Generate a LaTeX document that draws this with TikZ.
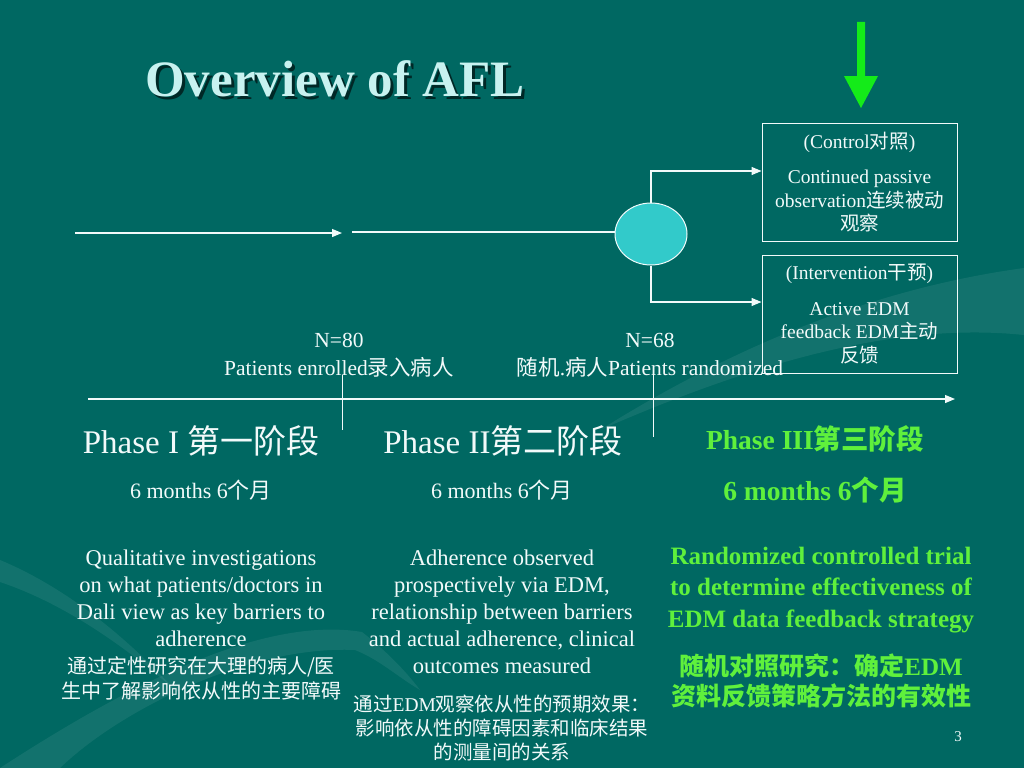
\documentclass[tikz,border=0pt]{standalone}
\usepackage{fontspec}
\setmainfont{Liberation Serif}
\newfontfamily\zhfont{Noto Sans CJK SC}
\usetikzlibrary{arrows.meta,shapes.geometric}
\definecolor{bg}{RGB}{0,104,98}
\definecolor{txt}{RGB}{242,250,250}
\definecolor{ttl}{RGB}{200,242,240}
\definecolor{shd}{RGB}{0,40,38}
\definecolor{grn}{RGB}{95,240,60}
\definecolor{garrow}{RGB}{20,235,25}
\definecolor{ellfill}{RGB}{50,202,202}
\newcommand\zh[1]{{\zhfont #1}}
\newcommand\fs[2]{\fontsize{#1}{#2}\selectfont}
\newcommand\shadowed[1]{\makebox[0pt][l]{\hspace{3pt}\raisebox{-3pt}{\textcolor{shd}{#1}}}#1}
\begin{document}
\begin{tikzpicture}[x=1pt,y=-1pt,
  wline/.style={draw=txt, line width=1.2pt},
  arr/.style={wline, -{Triangle[length=10pt,width=8pt]}},
  lbl/.style={text=txt, inner sep=0pt, align=center},
  glbl/.style={text=grn, inner sep=0pt, align=center},
  box/.style={draw=txt, line width=1pt, minimum width=195pt, minimum height=118pt, inner sep=0pt, text=txt, align=center, font={\fs{19.5}{23.5}}},
  swoosh/.style={fill=white, opacity=0.07},
]
\fill[bg] (0,0) rectangle (1024,768);
\useasboundingbox (0,0) rectangle (1024,768);
% background swooshes
\fill[swoosh] (0,560) .. controls (60,585) and (120,630) .. (175,690) .. controls (120,642) and (60,602) .. (0,582) -- cycle;
\fill[swoosh] (0,768) .. controls (120,690) and (260,615) .. (362,632) .. controls (385,650) and (405,670) .. (420,690) .. controls (395,675) and (380,660) .. (355,650) .. controls (250,645) and (120,710) .. (60,768) -- cycle;
\fill[swoosh] (1024,268) .. controls (900,285) and (760,330) .. (600,430) .. controls (760,360) and (900,322) .. (1024,335) -- cycle;
% title
\node[inner sep=0pt, font={\bfseries\fs{51}{56}}, text=ttl] (title) at (335,80) {\shadowed{Overview of AFL}};
% green arrow
\fill[garrow] (857,22) -- (865,22) -- (865,76) -- (878,76) -- (861,108) -- (844,76) -- (857,76) -- cycle;
% boxes
\node[box] (ctrl) at (859.5,182) {(Control\zh{对照})\\[12pt] Continued passive\\ observation\zh{连续被动}\\ \zh{观察}};
\node[box] (intv) at (859.5,314) {(Intervention\zh{干预})\\[12pt] Active EDM\\ feedback EDM\zh{主动}\\ \zh{反馈}};
% randomization ellipse
\node[ellipse, draw=txt, fill=ellfill, line width=1pt, minimum width=72pt, minimum height=62pt] (rand) at (651,234) {};
% arrows
\coordinate (a0) at (75,233);
\coordinate (a1) at (342,233);
\coordinate (b0) at (352,232);
\draw[arr] (a0) -- (a1);
\draw[wline] (b0) -- (b0 -| rand.west);
\draw[arr] (rand.north) |- ([yshift=11pt]ctrl.west);
\draw[arr] (rand.south) |- ([yshift=12pt]intv.west);
% timeline
\coordinate (t0) at (88,399);
\coordinate (t1) at (955,399);
\draw[arr] (t0) -- (t1);
\coordinate (k1a) at (342,375);
\coordinate (k1b) at (342,430);
\coordinate (k2a) at (653,375);
\coordinate (k2b) at (653,437);
\draw[wline, line width=1pt] (k1a) -- (k1b);
\draw[wline, line width=1pt] (k2a) -- (k2b);
% counts
\node[lbl, font={\fs{21.5}{28}}] (n80) at (339,355) {N=80\\ Patients enrolled\zh{录入病人}};
\node[lbl, font={\fs{21.5}{28}}] (n68) at (650,355) {N=68\\ \zh{随机}.\zh{病人}Patients randomized};
% phases
\node[lbl, font={\fs{33}{36}}] (p1) at (201,441) {Phase I \zh{第一阶段}};
\node[lbl, font={\fs{33}{36}}] (p2) at (503,441) {Phase II\zh{第二阶段}};
\node[glbl, font={\bfseries\fs{27.5}{30}}] (p3) at (815,439) {Phase III\zh{第三阶段}};
\node[lbl, font={\fs{22}{26}}] (m1) at (201,490) {6 months 6\zh{个月}};
\node[lbl, font={\fs{22}{26}}] (m2) at (502,490) {6 months 6\zh{个月}};
\node[glbl, font={\bfseries\fs{27.5}{30}}] (m3) at (815,490) {6 months 6\zh{个月}};
% descriptions
\node[lbl, font={\fs{22.5}{27}}] (d1) at (201,598) {Qualitative investigations\\ on what patients/doctors in\\ Dali view as key barriers to\\ adherence};
\node[lbl, font={\zhfont\fs{20}{25}}] (d1z) at (201,678) {通过定性研究在大理的病人/医\\ 生中了解影响依从性的主要障碍};
\node[lbl, font={\fs{22.5}{27}}] (d2) at (502,612) {Adherence observed\\ prospectively via EDM,\\ relationship between barriers\\ and actual adherence, clinical\\ outcomes measured};
\node[lbl, font={\fs{19.5}{24}}] (d2z) at (502,728) {\zh{通过}EDM\zh{观察依从性的预期效果：}\\ \zh{影响依从性的障碍因素和临床结果}\\ \zh{的测量间的关系}};
\node[glbl, font={\bfseries\fs{25}{31.5}}] (d3) at (821,590) {Randomized controlled trial\\ to determine effectiveness of\\ EDM data feedback strategy};
\node[glbl, font={\bfseries\fs{25}{30}}] (d3z) at (821,681) {\zh{随机对照研究：确定}EDM\\ \zh{资料反馈策略方法的有效性}};
% page number
\node[lbl, font={\fs{15}{18}}] (pg) at (958,737) {3};
\end{tikzpicture}
\end{document}
